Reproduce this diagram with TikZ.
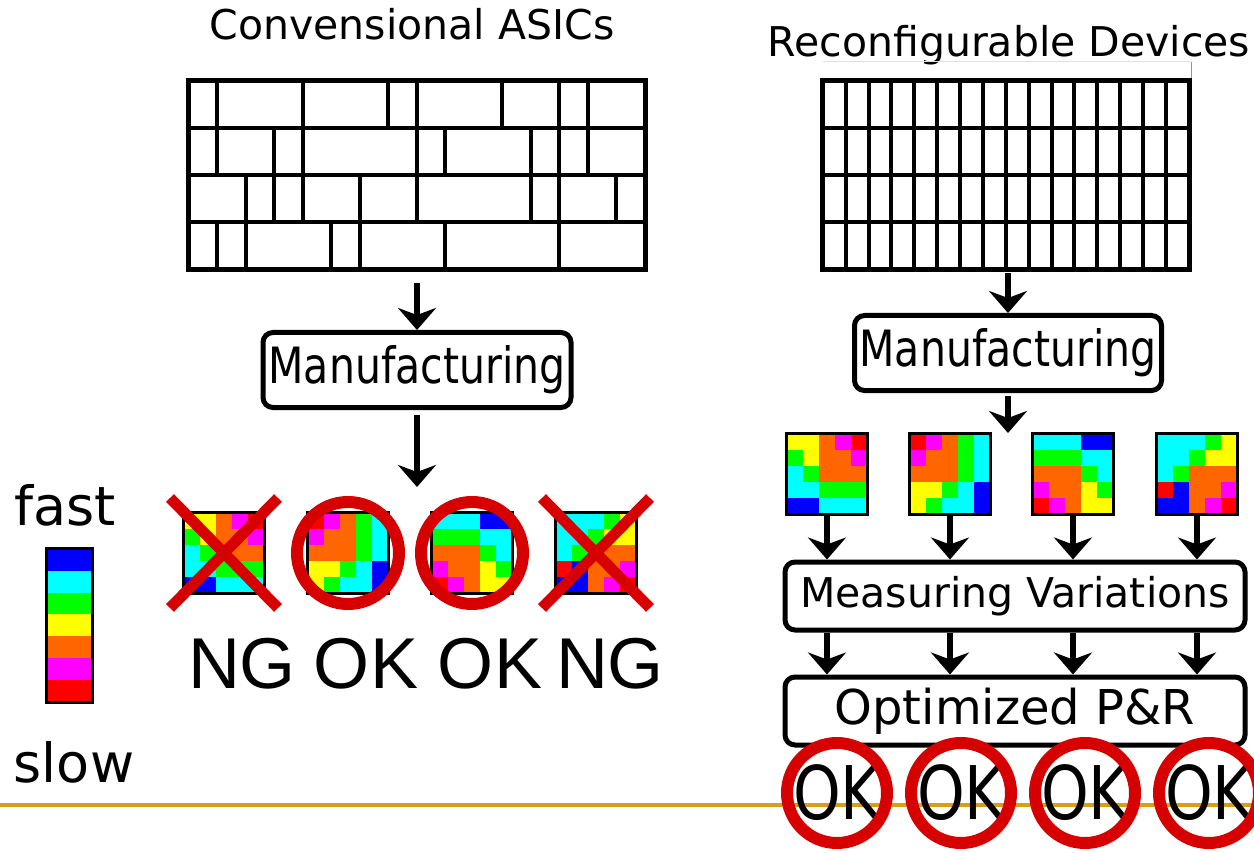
\documentclass[tikz,border=0pt]{standalone}
\usepackage{fontspec}
\setmainfont{DejaVu Sans}
\newfontfamily\arialfont{Liberation Sans}
\newfontfamily\narrowfont[FakeStretch=0.82]{DejaVu Sans}
\usetikzlibrary{arrows.meta,positioning}
\definecolor{colB}{RGB}{0,0,255}
\definecolor{colC}{RGB}{0,255,255}
\definecolor{colG}{RGB}{0,255,0}
\definecolor{colY}{RGB}{255,255,0}
\definecolor{colO}{RGB}{255,102,0}
\definecolor{colM}{RGB}{255,0,255}
\definecolor{colR}{RGB}{255,0,0}
\definecolor{markred}{RGB}{214,0,0}
\definecolor{rulegold}{RGB}{212,160,23}
% speed maps of the four dies, row by row
\newcommand\dieA{{Y,Y,O,M,R},{G,Y,O,O,M},{C,G,O,O,O},{C,C,G,G,G},{B,B,C,C,C}}
\newcommand\dieB{{R,M,O,G,C},{M,O,O,G,C},{O,O,O,G,C},{Y,Y,G,C,B},{Y,G,C,C,B}}
\newcommand\dieC{{C,C,C,B,B},{G,G,G,C,C},{O,O,O,G,C},{M,O,O,Y,G},{R,M,O,Y,Y}}
\newcommand\dieD{{C,C,C,G,Y},{C,C,G,Y,Y},{C,G,O,O,O},{R,B,O,O,M},{B,B,O,M,R}}
\newcommand\die[3]{%
\node[die] (#1) at (#2) {};
\foreach \rw [count=\j from 0] in #3 {
  \foreach \cl [count=\i from 0] in \rw {
    \fill[col\cl] ([shift={(\i*16,\j*16)}]#1.north west) rectangle ++(16,16);}}
\draw[dieframe] (#1.north west) rectangle (#1.south east);
}
\begin{document}
\begin{tikzpicture}[x=1pt,y=-1pt,
  die/.style={minimum width=80pt,minimum height=80pt,inner sep=0pt},
  dieframe/.style={line width=3pt},
  gridline/.style={line width=4pt},
  gridframe/.style={line width=5pt},
  stepbox/.style={draw,line width=5pt,rounded corners=10pt,inner sep=0pt,font=\fontsize{41}{48}\selectfont},
  flow/.style={line width=6pt,-{Stealth[length=22pt,width=38pt,inset=7pt]}},
  nomark/.style={draw=markred,line width=11pt},
  okmark/.style={draw=markred,line width=12pt},
  title/.style={font=\fontsize{41}{48}\selectfont,anchor=base},
  verdict/.style={font=\arialfont\fontsize{72}{80}\selectfont,anchor=base},
  speed/.style={font=\fontsize{54}{60}\selectfont,anchor=base}]
\useasboundingbox (0,0) rectangle (1254,853);
\pgfmathsetmacro{\cw}{456/16}
\pgfmathsetmacro{\fw}{366/16}

% conventional ASIC floorplan
\node[title] (tasic) at (412,40) {Convensional ASICs};
\node[minimum width=456pt,minimum height=188pt,inner sep=0pt] (asic) at (417,175) {};
\foreach \cuts [count=\j from 0] in {{1,4,7,8,11,13,14},{1,3,4,8,9,12,13,14},{2,3,4,6,8,12,13,15},{1,2,5,6,9,13}}
  \foreach \k in \cuts
    \draw[gridline] ([shift={(\k*\cw,\j*47)}]asic.north west)--++(0,47);
\foreach \j in {1,2,3}
  \draw[gridline] ([shift={(0,\j*47)}]asic.north west)--++(456,0);
\draw[gridframe] (asic.north west) rectangle (asic.south east);

\node[stepbox,minimum width=308pt,minimum height=75pt,font=\narrowfont\fontsize{50}{56}\selectfont] (mfgA) at (417,370) {Manufacturing};
\draw[flow,shorten <=14pt] (asic.south -| mfgA)--(mfgA.north);
\coordinate (rowA) at (417,487);
\draw[flow,shorten <=5pt] (mfgA.south)--(rowA);

\die{l1}{224,553}{\dieA}
\die{l2}{348,553}{\dieB}
\die{l3}{472,553}{\dieC}
\die{l4}{596,553}{\dieD}
\foreach \d in {l1,l4}{
  \draw[nomark] ([shift={(-54,-55)}]\d.center)--([shift={(54,55)}]\d.center);
  \draw[nomark] ([shift={(-54,55)}]\d.center)--([shift={(54,-55)}]\d.center);}
\foreach \d in {l2,l3}
  \draw[okmark] (\d.center) circle[radius=51];
\node[verdict] (ng1) at (242,688) {NG};
\node[verdict] (ok1) at (366,688) {OK};
\node[verdict] (ok2) at (490,688) {OK};
\node[verdict] (ng2) at (610,688) {NG};

% speed scale
\node[speed] (fast) at (65,525) {fast};
\node[speed] (slow) at (74,782) {slow};
\node[minimum width=45pt,minimum height=153pt,inner sep=0pt] (bar) at (69.5,625.5) {};
\foreach \cl [count=\i from 0] in {B,C,G,Y,O,M,R}
  \fill[col\cl] ([shift={(0,\i*153/7)}]bar.north west) rectangle ++(45,153/7);
\draw[dieframe] (bar.north west) rectangle (bar.south east);

% reconfigurable device
\node[title] (tfpga) at (1009,57) {Reconfigurable Devices};
\node[minimum width=366pt,minimum height=188pt,inner sep=0pt] (fpga) at (1006,175) {};
\draw[black!12,line width=1pt] (823,62)--(1191,62);
\draw[red!60,line width=1pt] (1191,62)--(1191,271);
\foreach \k in {1,...,15}
  \draw[gridline] ([shift={(\k*\fw,0)}]fpga.north west)--++(0,188);
\foreach \j in {1,2,3}
  \draw[gridline] ([shift={(0,\j*47)}]fpga.north west)--++(366,0);
\draw[gridframe] (fpga.north west) rectangle (fpga.south east);

\node[stepbox,minimum width=307pt,minimum height=75pt,font=\narrowfont\fontsize{50}{56}\selectfont] (mfgB) at (1008,353) {Manufacturing};
\draw[flow,shorten <=4pt] (fpga.south -| mfgB)--(mfgB.north);
\coordinate (rowB) at (1008,433);
\draw[flow,shorten <=3pt] (mfgB.south)--(rowB);

\die{r1}{827,474}{\dieA}
\die{r2}{950,474}{\dieB}
\die{r3}{1073,474}{\dieC}
\die{r4}{1197,474}{\dieD}

\node[stepbox,minimum width=460pt,minimum height=68pt] (meas) at (1015,596) {Measuring Variations};
\node[stepbox,minimum width=460pt,minimum height=68pt,font=\fontsize{48}{56}\selectfont] (opt) at (1015,711) {Optimized P\&R};
\foreach \d in {r1,r2,r3,r4}{
  \draw[flow] (\d.south)--(\d.south |- meas.north);
  \draw[flow] (\d.south |- meas.south)--(\d.south |- opt.north);}

\draw[rulegold,line width=4pt] (0,805)--(1254,805);
\foreach \x [count=\n] in {837,961,1085,1209}{
  \node[font=\narrowfont\fontsize{74}{80}\selectfont] (fin\n) at (\x,793) {OK};
  \draw[okmark] (fin\n.center) circle[radius=50];}
\end{tikzpicture}
\end{document}
